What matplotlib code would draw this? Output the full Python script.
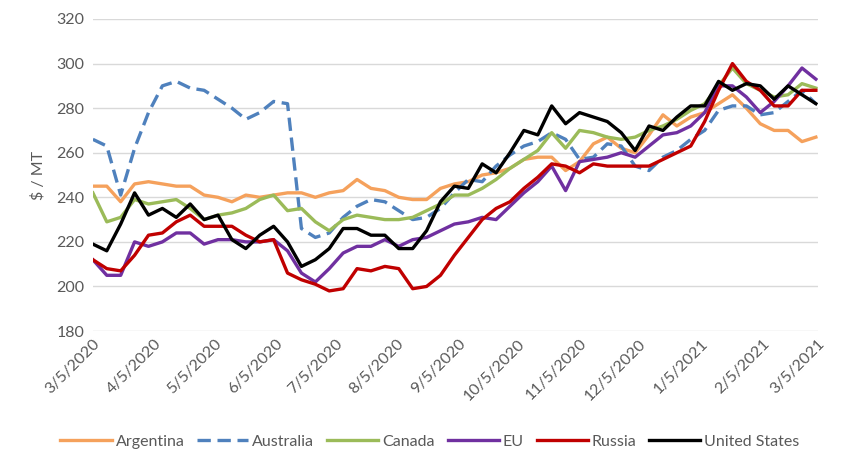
import numpy as np
import pandas as pd
import matplotlib
matplotlib.use("Agg")
import matplotlib.pyplot as plt

plt.rcParams['font.family'] = ['Lato', 'DejaVu Sans']

# weekly observations starting 3/5/2020
start = pd.Timestamp("2020-03-05")
n_weeks = 53
dates = start + pd.to_timedelta(np.arange(n_weeks) * 7, unit="D")

argentina = [245, 245, 238, 246, 247, 246, 245, 245, 241, 240, 238, 241, 240, 241,
             242, 242, 240, 242, 243, 248, 244, 243, 240, 239, 239, 244, 246, 247,
             250, 251, 253, 257, 258, 258, 252, 256, 264, 267, 262, 260, 268, 277,
             272, 276, 278, 282, 286, 280, 273, 270, 270, 265, 267]
australia = [266, 263, 241, 262, 278, 290, 292, 289, 288, 284, 280, 275, 278, 283,
             282, 226, 222, 224, 231, 236, 239, 238, 234, 230, 231, 235, 242, 248,
             247, 254, 259, 263, 265, 269, 266, 257, 258, 264, 263, 254, 252, 258,
             261, 266, 270, 279, 281, 281, 277, 278, 283, 288, 282]
canada = [242, 229, 231, 239, 237, 238, 239, 235, 230, 232, 233, 235, 239, 241,
          234, 235, 229, 225, 230, 232, 231, 230, 230, 231, 234, 237, 241, 241,
          244, 248, 253, 257, 261, 269, 262, 270, 269, 267, 266, 267, 270, 272,
          275, 279, 282, 290, 298, 291, 288, 285, 286, 291, 289]
eu = [212, 205, 205, 220, 218, 220, 224, 224, 219, 221, 221, 220, 220, 221,
      216, 206, 202, 208, 215, 218, 218, 221, 218, 221, 222, 225, 228, 229,
      231, 230, 236, 242, 247, 254, 243, 256, 257, 258, 260, 258, 263, 268,
      269, 272, 278, 290, 290, 285, 278, 283, 290, 298, 293]
russia = [212, 208, 207, 214, 223, 224, 229, 232, 227, 227, 227, 223, 220, 221,
          206, 203, 201, 198, 199, 208, 207, 209, 208, 199, 200, 205, 214, 222,
          230, 235, 238, 244, 249, 255, 254, 251, 255, 254, 254, 254, 254, 257,
          260, 263, 274, 288, 300, 292, 288, 281, 281, 288, 288]
united_states = [219, 216, 228, 242, 232, 235, 231, 237, 230, 232, 221, 217, 223, 227,
                 220, 209, 212, 217, 226, 226, 223, 223, 217, 217, 225, 238, 245, 244,
                 255, 251, 260, 270, 268, 281, 273, 278, 276, 274, 269, 261, 272, 270,
                 276, 281, 281, 292, 288, 291, 290, 284, 290, 286, 282]

# x ticks on the 5th of every month
tick_dates = pd.date_range("2020-03-01", "2021-03-01", freq="MS") + pd.Timedelta(days=4)
tick_labels = [f"{d.month}/{d.day}/{d.year}" for d in tick_dates]

fig, ax = plt.subplots(figsize=(8.6, 4.63), dpi=100)
fig.subplots_adjust(left=0.108, right=0.951, top=0.959, bottom=0.285)

lw = 2.4
ax.plot(dates, argentina, color='#F5A15C', lw=lw, label='Argentina')
ax.plot(dates, australia, color='#4F81BD', lw=lw, ls=(0, (4.0, 2.0)), label='Australia')
ax.plot(dates, canada, color='#9BBB59', lw=lw, label='Canada')
ax.plot(dates, eu, color='#7030A0', lw=lw, label='EU')
ax.plot(dates, russia, color='#C00000', lw=lw, label='Russia')
ax.plot(dates, united_states, color='black', lw=lw, label='United States')

ax.set_ylim(180, 320)
ax.set_yticks(np.arange(180, 321, 20))
ax.set_xlim(tick_dates[0], tick_dates[-1])
ax.set_xticks(tick_dates)
ax.set_xticklabels(tick_labels, rotation=45, ha='right', va='top', rotation_mode='anchor')

ax.grid(axis='y', color='#D9D9D9', lw=1)
ax.set_axisbelow(True)
for s in ax.spines.values():
    s.set_visible(False)
ax.tick_params(axis='both', length=0, labelsize=11.5, colors='#595959', pad=6)
ax.tick_params(axis='x', pad=4)
ax.set_ylabel('$ / MT', fontsize=11.5, color='#595959', labelpad=8)

fig.legend(loc='lower center', bbox_to_anchor=(0.5, 0.0), ncol=6, frameon=False,
           fontsize=11.5, labelcolor='#595959', handlelength=3.2, columnspacing=0.8,
           handletextpad=0.25)

fig.savefig('out.png', dpi=100)
